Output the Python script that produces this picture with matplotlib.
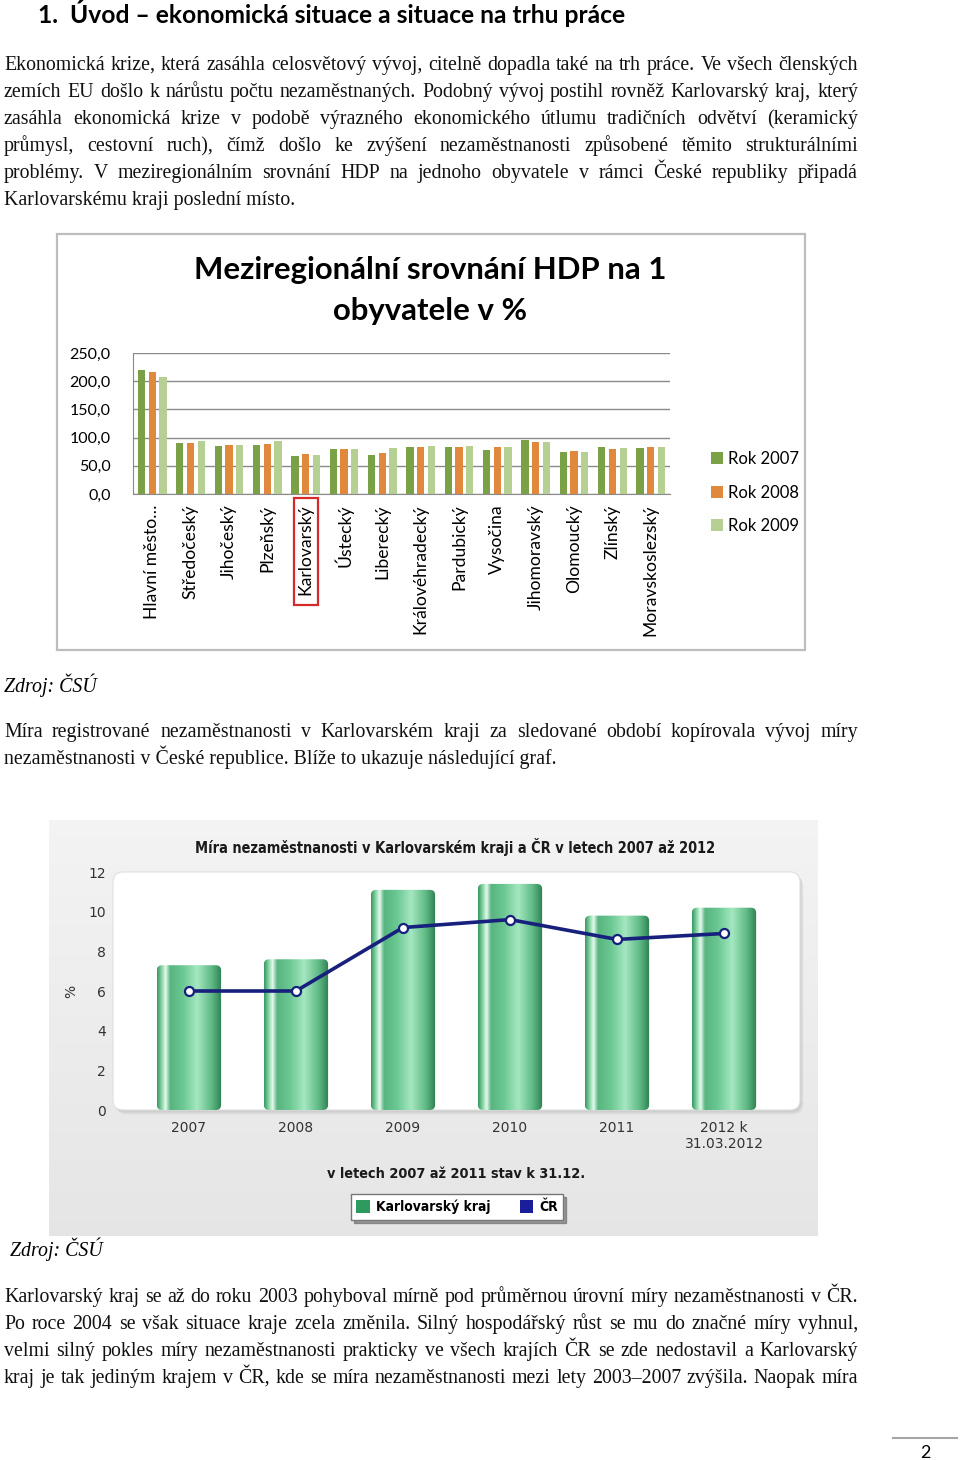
import numpy as np
import matplotlib
matplotlib.use("Agg")
from matplotlib import pyplot as plt
from matplotlib.patches import Rectangle, FancyBboxPatch, Patch

W, H = 960, 1460

# --- chart 1: HDP per capita, % of CZ average ---
regions = ["Hlavní město…", "Středočeský", "Jihočeský", "Plzeňský", "Karlovarský",
           "Ústecký", "Liberecký", "Královéhradecký", "Pardubický", "Vysočina",
           "Jihomoravský", "Olomoucký", "Zlínský", "Moravskoslezský"]
hdp_2007 = [220.3, 90.9, 85.5, 86.1, 67.1, 79.0, 68.9, 83.7, 82.5, 77.8, 95.0, 74.2, 82.5, 80.8]
hdp_2008 = [215.6, 90.9, 86.1, 89.1, 71.3, 80.2, 73.0, 82.5, 82.5, 82.5, 91.4, 75.4, 80.2, 83.1]
hdp_2009 = [206.7, 93.2, 86.7, 93.2, 69.5, 80.2, 80.8, 84.3, 84.3, 83.1, 92.6, 74.2, 81.9, 82.5]
hdp_years = ["Rok 2007", "Rok 2008", "Rok 2009"]
hdp_ticks = [0, 50, 100, 150, 200, 250]
hdp_ticklabels = ["0,0", "50,0", "100,0", "150,0", "200,0", "250,0"]

# --- chart 2: unemployment rate ---
years = ["2007", "2008", "2009", "2010", "2011", "2012 k\n31.03.2012"]
kv_kraj = [7.3, 7.6, 11.1, 11.4, 9.8, 10.2]
cr = [6.0, 6.0, 9.2, 9.6, 8.6, 8.9]
unemp_ticks = [0, 2, 4, 6, 8, 10, 12]

heading = "1.  Úvod – ekonomická situace a situace na trhu práce"
para1 = ["Ekonomická krize, která zasáhla celosvětový vývoj, citelně dopadla také na trh práce. Ve všech členských",
         "zemích EU došlo k nárůstu počtu nezaměstnaných. Podobný vývoj postihl rovněž Karlovarský kraj, který",
         "zasáhla ekonomická krize v podobě výrazného ekonomického útlumu tradičních odvětví (keramický",
         "průmysl, cestovní ruch), čímž došlo ke zvýšení nezaměstnanosti způsobené těmito strukturálními",
         "problémy. V meziregionálním srovnání HDP na jednoho obyvatele v rámci České republiky připadá",
         "Karlovarskému kraji poslední místo."]
para2 = ["Míra registrované nezaměstnanosti v Karlovarském kraji za sledované období kopírovala vývoj míry",
         "nezaměstnanosti v České republice. Blíže to ukazuje následující graf."]
para3 = ["Karlovarský kraj se až do roku 2003 pohyboval mírně pod průměrnou úrovní míry nezaměstnanosti v ČR.",
         "Po roce 2004 se však situace kraje zcela změnila. Silný hospodářský růst se mu do značné míry vyhnul,",
         "velmi silný pokles míry nezaměstnanosti prakticky ve všech krajích ČR se zde nedostavil a Karlovarský",
         "kraj je tak jediným krajem v ČR, kde se míra nezaměstnanosti mezi lety 2003–2007 zvýšila. Naopak míra"]

SERIF = ["Liberation Serif", "DejaVu Serif"]
SANS = ["Lato", "DejaVu Sans"]
CHART2 = ["DejaVu Sans"]


def box(x0, y0, x1, y1):
    # pixel box (from top-left) -> figure fraction rect
    return [x0 / W, 1 - y1 / H, (x1 - x0) / W, (y1 - y0) / H]


fig = plt.figure(figsize=(W / 100, H / 100), dpi=100)
fig.patch.set_facecolor("white")
renderer = fig.canvas.get_renderer()

page = fig.add_axes([0, 0, 1, 1])
page.set_xlim(0, W)
page.set_ylim(H, 0)
page.axis("off")


def text_width(s, size, family, style="normal", weight="normal", stretch="normal"):
    t = page.text(0, 0, s, fontsize=size, family=family, style=style, weight=weight,
                  fontstretch=stretch)
    w = t.get_window_extent(renderer).width
    t.remove()
    return w


def put_line(s, x0, x1, y, size, justify=True):
    if not justify:
        page.text(x0, y, s, fontsize=size, family=SERIF, va="baseline", color="#111111")
        return
    words = s.split(" ")
    widths = [text_width(w, size, SERIF) for w in words]
    gap = (x1 - x0 - sum(widths)) / (len(words) - 1)
    x = x0
    for w, wd in zip(words, widths):
        page.text(x, y, w, fontsize=size, family=SERIF, va="baseline", color="#111111")
        x += wd + gap


# body font size fitted to the natural (unstretched) line width
body_size = 10 * 846 / text_width(para3[0], 10, SERIF)

head_size = 10 * 589 / text_width(heading, 10, SANS, weight="bold")
page.text(38, 23, heading, fontsize=head_size, family=SANS, weight="bold", va="baseline")

for i, line in enumerate(para1):
    put_line(line, 4, 858, 70 + 27 * i, body_size, justify=(i < len(para1) - 1))
for i, line in enumerate(para2):
    put_line(line, 4, 858, 737 + 27 * i, body_size, justify=(i < len(para2) - 1))
for i, line in enumerate(para3):
    put_line(line, 4, 858, 1302 + 27 * i, body_size, justify=True)

page.text(4, 692, "Zdroj: ČSÚ", fontsize=body_size, family=SERIF, style="italic", va="baseline")
page.text(10, 1256, "Zdroj: ČSÚ", fontsize=body_size, family=SERIF, style="italic", va="baseline")

# page number
page.plot([893, 957], [1438, 1438], color="#a6a6a6", lw=1.5)
page.text(925, 1453, "2", fontsize=13, family=SANS, ha="center", va="center")

# ---------------- chart 1 ----------------
page.add_patch(Rectangle((57, 234), 748, 416, facecolor="white", edgecolor="#bdbdbd", lw=1.6))
t1_size = 10 * 472 / text_width("Meziregionální srovnání HDP na 1", 10, SANS, weight="bold")
page.text(430, 270, "Meziregionální srovnání HDP na 1", fontsize=t1_size, family=SANS,
          weight="bold", ha="center", va="center")
page.text(430, 311, "obyvatele v %", fontsize=t1_size, family=SANS,
          weight="bold", ha="center", va="center")

ax1 = fig.add_axes(box(133, 353, 670, 494))
x = np.arange(len(regions))
bw = 0.19
c1 = ["#7aa146", "#e0883b", "#b6d093"]
bars = []
for k, vals in enumerate([hdp_2007, hdp_2008, hdp_2009]):
    b = ax1.bar(x + (k - 1) * 0.28, vals, width=bw, color=c1[k], zorder=3, label=hdp_years[k])
    bars.append(b)
ax1.set_xlim(-0.5, len(regions) - 0.5)
ax1.set_ylim(0, 250)
ax1.set_yticks(hdp_ticks)
ax1.set_yticklabels(hdp_ticklabels, fontsize=11.5, family=SANS)
ax1.set_xticks(x)
ax1.set_xticklabels(regions, rotation=90, fontsize=12.6, family=SANS)
ax1.tick_params(axis="y", length=0, pad=16)
ax1.tick_params(axis="x", length=0, pad=7.5)
ax1.grid(axis="y", color="#8a8a8a", lw=1, zorder=0)
for s in ["top", "right"]:
    ax1.spines[s].set_visible(False)
for s in ["left", "bottom"]:
    ax1.spines[s].set_color("#8a8a8a")
ax1.legend(handles=[b[0] for b in bars], labels=hdp_years, loc="upper left",
           bbox_to_anchor=(696 / W, 1 - 436 / H), bbox_transform=fig.transFigure,
           frameon=False, prop={"family": SANS, "size": 12},
           handlelength=0.7, handleheight=0.7, handletextpad=0.35, labelspacing=1.05)

# ---------------- chart 2 ----------------
grad_bg = np.linspace(0, 1, 200)[:, None] * np.ones((1, 10))
bg_cols = np.array([0.955, 0.955, 0.955]) * (1 - grad_bg[..., None]) + np.array([0.9, 0.9, 0.9]) * grad_bg[..., None]
page.imshow(bg_cols, extent=(49, 818, 1236, 820), aspect="auto", zorder=0)
page.set_xlim(0, W)
page.set_ylim(H, 0)

for d in range(1, 6):
    page.add_patch(FancyBboxPatch((113 + d * 0.7, 872 + d * 0.9), 687, 238,
                                  boxstyle="round,pad=0,rounding_size=10",
                                  facecolor="#808080", edgecolor="none", alpha=0.07, zorder=1))
page.add_patch(FancyBboxPatch((113, 872), 687, 238, boxstyle="round,pad=0,rounding_size=10",
                              facecolor="white", edgecolor="#e0e0e0", lw=0.8, zorder=2))

title2 = "Míra nezaměstnanosti v Karlovarském kraji a ČR v letech 2007 až 2012"
sub2 = "v letech 2007 až 2011 stav k 31.12."
t2_size = 10 * 522 / text_width(title2, 10, CHART2, weight="bold", stretch="condensed")
s2_size = 10 * 259 / text_width(sub2, 10, CHART2, weight="bold", stretch="condensed")
page.text(455, 847, title2, fontsize=t2_size, family=CHART2, weight="bold", fontstretch="condensed",
          ha="center", va="center", color="#1a1a1a", zorder=3)
page.text(456, 1174, sub2, fontsize=s2_size, family=CHART2, weight="bold", fontstretch="condensed",
          ha="center", va="center", color="#1a1a1a", zorder=3)
page.text(71, 991, "%", fontsize=10, family=CHART2, rotation=90, ha="center", va="center",
          color="#333333", zorder=3)

ax2 = fig.add_axes(box(113, 872, 800, 1110))
ax2.patch.set_visible(False)
xx = np.arange(len(years))
bars2 = ax2.bar(xx, kv_kraj, width=0.6, color="none", zorder=2)

stops = [0.0, 0.07, 0.13, 0.2, 0.4, 0.62, 0.85, 1.0]
cols = np.array([[0x3a, 0x99, 0x62], [0x86, 0xd6, 0xa6], [0xe6, 0xfb, 0xee], [0x58, 0xb5, 0x80],
                 [0x6c, 0xc8, 0x92], [0xa4, 0xe7, 0xc0], [0x5e, 0xb8, 0x84], [0x2e, 0x80, 0x50]]) / 255
u = np.linspace(0, 1, 120)
grad = np.stack([np.interp(u, stops, cols[:, c]) for c in range(3)], axis=-1)[None, :, :]

for p in bars2:
    x0, w, h = p.get_x(), p.get_width(), p.get_height()
    clip = FancyBboxPatch((x0, 0), w, h, boxstyle="round,pad=0,rounding_size=0.05",
                          mutation_aspect=5.0, facecolor="none", edgecolor="none")
    ax2.add_patch(clip)
    im = ax2.imshow(grad, extent=(x0, x0 + w, 0, h), aspect="auto", zorder=2,
                    interpolation="bilinear")
    im.set_clip_path(clip)

ax2.plot(xx, cr, color="#17207c", lw=2.6, zorder=4, marker="o", ms=6.5,
         mfc="white", mec="#17207c", mew=1.6)
ax2.set_xlim(-0.71, len(years) - 1 + 0.71)
ax2.set_ylim(0, 12)
ax2.set_yticks(unemp_ticks)
ax2.set_yticklabels([str(t) for t in unemp_ticks], fontsize=10, family=CHART2, color="#333333")
ax2.set_xticks(xx)
ax2.set_xticklabels(years, fontsize=10, family=CHART2, color="#333333", linespacing=1.2)
ax2.tick_params(axis="y", length=0, pad=5)
ax2.tick_params(axis="x", length=0, pad=8)
ax2.set_yticks([2, 4, 6, 8, 10], minor=True)
ax2.grid(axis="y", which="minor", color="#d2d2d2", lw=1, zorder=0)
for s in ax2.spines.values():
    s.set_visible(False)

ax2.legend(handles=[Patch(facecolor="#2f9a5e"), Patch(facecolor="#1b1e9a")],
           labels=["Karlovarský kraj", "ČR"], ncol=2, loc="center",
           bbox_to_anchor=(457 / W, 1 - 1207 / H), bbox_transform=fig.transFigure,
           prop={"family": CHART2, "weight": "bold", "size": 10, "stretch": "condensed"},
           frameon=True, fancybox=False, shadow=True, edgecolor="#777777",
           handlelength=1.0, handleheight=1.0, handletextpad=0.4, columnspacing=2.1,
           borderpad=0.4)

# red highlight around the Karlovarský label
fig.canvas.draw()
lbl = ax1.get_xticklabels()[regions.index("Karlovarský")]
bb = lbl.get_window_extent(renderer)
fig.add_artist(Rectangle(((bb.x0 - 4) / W, (bb.y0 - 10) / H), (bb.width + 8) / W,
                         (bb.height + 16) / H, transform=fig.transFigure,
                         facecolor="none", edgecolor="#d62a2a", lw=1.6))

fig.savefig("out.png", dpi=100)
